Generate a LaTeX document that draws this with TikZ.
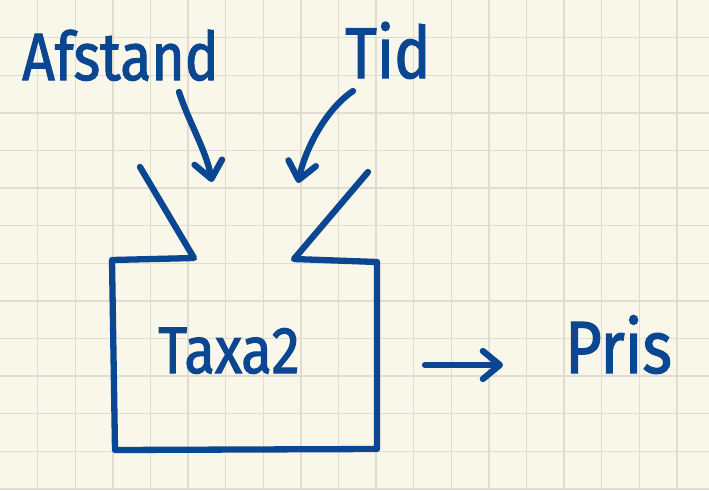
\documentclass[tikz,border=0pt]{standalone}
\usepackage{fontspec}
\usetikzlibrary{
    arrows.meta,
    positioning
}
\newfontfamily\handfont[FakeStretch=0.85, FakeBold=1.6]{Fira Sans}
\definecolor{PaperCream}{RGB}{249,246,234}
\definecolor{GridLine}{RGB}{225,221,206}
\definecolor{InkBlue}{RGB}{10,70,145}

\begin{document}
\begin{tikzpicture}[
    x=1pt, y=-1pt,
    >={Straight Barb[length=17pt, width=28pt, round]},
    ink/.style={line width=6.3pt, InkBlue, line cap=round, line join=round},
    handtext/.style={inner sep=0pt, anchor=base west, text=InkBlue}
]

% paper
\fill[PaperCream] (0,0) rectangle (709,490);
\useasboundingbox (0,0) rectangle (709,490);
\foreach \k in {1,...,18}
    \draw[GridLine, line width=1.4pt] (37.6*\k,0) -- (37.6*\k,490);
\foreach \k in {1,...,13}
    \draw[GridLine, line width=1.4pt] (0,37.6*\k) -- (709,37.6*\k);

% labels
\node[handtext, font=\handfont\fontsize{67}{67}\selectfont]
    (afstand) at (22,80) {Afstand};
\node[handtext, font=\handfont\fontsize{72}{72}\selectfont]
    (tid) at (345,78) {Tid};
\node[handtext, font=\handfont\fontsize{66}{66}\selectfont]
    (taxa) at (158,373) {Taxa2};
\node[handtext, font=\handfont\fontsize{74}{74}\selectfont]
    (pris) at (565,373) {Pris};

% inputs
\coordinate (inA) at (212,182);
\coordinate (inT) at (298,183);

\draw[ink, ->]
    ([shift={(-40pt,-12pt)}]afstand.base east)
    .. controls (190,125) and (206,150) .. (inA);

\draw[ink, ->]
    ([shift={(8pt,-13pt)}]tid.base west)
    .. controls (325,110) and (305,150) .. (inT);

% box with funnel
\draw[ink]
    (140,167) -- (194,258) -- (112,260)
    -- (115,450) -- (377,449) -- (377,262)
    -- (294,259) -- (368,172);

% output
\coordinate (boxR) at (377,365);

\draw[ink, ->]
    ([xshift=48pt]boxR)
    -- ([shift={(-62pt,8pt)}]pris.base west);

\end{tikzpicture}
\end{document}
